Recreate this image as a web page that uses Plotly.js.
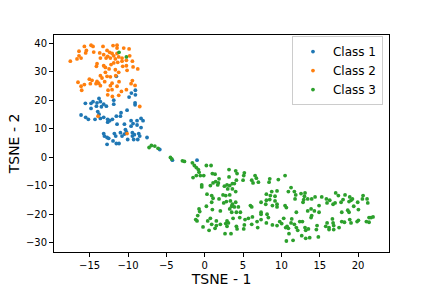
<!DOCTYPE html>
<html>
<head>
<meta charset="utf-8">
<script src="https://cdn.plot.ly/plotly-3.0.1.min.js"></script>
<style>html,body{margin:0;padding:0;background:#fff;}#chart{width:432px;height:288px;}</style>
</head>
<body>
<div id="chart"></div>
<script>
const seriesNames = ["Class 1", "Class 2", "Class 3"];
const seriesColors = ["#1f77b4", "#ff7f0e", "#2ca02c"];

const class1Points = [
  [-11.52,28.4],[-9.04,23.5],[-9.04,21.9],[-9.56,22.5],[-9.86,21.1],[-13.78,20.6],
  [-15.56,18.9],[-14.82,18.9],[-14.56,19.5],[-14.04,19.1],[-13.6,19.5],[-13.17,18.6],[-12.82,17.9],
  [-11.86,20.0],[-11.86,18.6],[-14.82,17.1],[-14.12,17.9],[-13.47,17.7],[-9.08,19.1],[-9.08,18.4],
  [-13.95,16.0],[-13.78,15.1],[-16.12,14.8],[-15.52,14.0],[-15.17,13.3],[-14.3,13.3],[-13.6,13.6],
  [-13.17,14.0],[-12.65,13.3],[-12.65,12.3],[-12.39,12.8],[-12.04,13.3],[-11.52,14.4],[-10.99,14.4],
  [-10.91,15.6],[-10.12,16.5],[-9.6,12.8],[-8.82,12.8],[-8.3,13.6],[-8.04,12.8],[-11.43,11.6],
  [-10.47,11.6],[-9.34,11.8],[-8.82,11.3],[-9.6,10.9],[-8.3,10.4],[-10.34,9.7],[-10.21,8.9],
  [-13.17,8.3],[-13.08,7.4],[-12.73,6.9],[-11.78,8.3],[-11.6,7.4],[-10.99,8.6],[-10.78,7.4],
  [-10.47,8.1],[-9.43,8.6],[-9.43,7.4],[-9.17,7.9],[-8.6,8.3],[-8.47,7.4],[-7.52,6.9],
  [-12.52,6.6],[-11.95,5.7],[-11.52,4.8],[-11.17,4.8],[-12.73,4.5],[-10.04,6.2],[-9.26,6.2],
  [-8.73,6.2],[-5.86,2.7],[-4.21,-1.05],[-1.0,-1.05]
];

const class2Points = [
  [-15.69,38.9],[-14.82,39.3],[-14.56,38.9],[-13.26,38.9],[-11.95,39.2],[-11.43,39.3],[-11.43,38.3],
  [-10.56,38.3],[-9.86,38.0],[-16.39,37.2],[-15.43,37.5],[-15.52,36.6],[-14.47,36.9],[-13.69,36.6],
  [-12.73,37.5],[-12.39,36.8],[-13.17,36.0],[-12.08,36.4],[-11.86,35.6],[-11.43,36.4],[-11.21,35.2],
  [-10.78,34.8],[-9.78,35.6],[-16.39,35.6],[-16.65,34.5],[-16.12,34.8],[-17.52,33.7],[-13.6,34.8],
  [-12.86,34.8],[-12.65,35.4],[-12.3,34.8],[-11.65,34.5],[-10.78,33.7],[-10.21,34.0],[-9.43,33.7],
  [-14.04,32.8],[-14.12,31.9],[-13.17,32.1],[-12.95,31.5],[-12.21,32.5],[-11.86,33.1],[-11.34,33.3],
  [-10.69,31.9],[-10.21,32.1],[-9.34,31.7],[-8.73,31.0],[-10.12,30.5],[-12.47,31.0],[-11.65,30.7],
  [-12.95,29.8],[-11.21,29.8],[-13.6,28.6],[-13.39,27.8],[-12.73,28.4],[-12.3,28.2],[-11.6,28.6],
  [-15.04,27.4],[-14.69,27.0],[-14.04,26.6],[-13.82,26.0],[-13.04,26.5],[-12.08,26.0],[-11.17,26.5],
  [-9.43,26.9],[-9.6,25.8],[-9.08,25.2],[-16.52,26.3],[-15.69,25.5],[-14.91,25.8],[-16.12,24.9],
  [-14.17,25.8],[-13.6,25.1],[-12.3,25.1],[-11.43,24.9],[-10.21,23.7],[-10.86,23.1],[-12.6,23.5],
  [-12.08,23.7],[-16.04,23.5],[-12.65,21.9],[-12.04,21.3],[-11.21,21.7],[-8.47,17.8],[-13.91,14.4],
  [-10.12,8.3]
];

const class3Points = [
  [-11.17,36.8],[-10.21,35.2],
  [-7.25,3.4],[-6.95,4.1],[-6.51,3.9],[-6.08,3.1],[-4.47,-0.1],[-4.3,-0.6],[-2.9,-1.3],[-2.64,-1.5],
  [-1.61,-2.0],[-1.35,-2.93],[-1.09,-3.64],[-0.83,-4.34],[0.22,-2.93],[0.83,-2.93],[-0.74,-5.28],
  [-1.52,-7.15],[-1.09,-6.45],[-0.57,-6.45],[-0.13,-6.45],[1.0,-5.75],[1.35,-5.98],[1.87,-7.62],
  [3.17,-4.34],[3.17,-6.92],[4.04,-4.81],[4.22,-5.75],[5.17,-5.51],[5.09,-6.45],[4.13,-8.09],
  [5.0,-8.09],[6.57,-6.45],[6.74,-7.39],[6.13,-8.09],[6.3,-9.03],[7.0,-8.79],[8.48,-7.62],
  [8.39,-8.79],[9.6,-7.86],[-0.39,-9.73],[-0.39,-10.44],[0.74,-9.97],[1.09,-9.03],[1.43,-8.56],
  [1.78,-9.03],[1.7,-9.73],[2.57,-10.2],[2.91,-9.73],[3.26,-9.97],[3.61,-9.26],[3.87,-9.26],
  [3.0,-11.14],[3.61,-11.14],[4.04,-12.08],[8.74,-12.08],[9.43,-11.84],[8.56,-13.48],[9.17,-13.72],
  [0.30,-13.01],[0.91,-13.48],[1.09,-14.42],[0.91,-15.83],[1.87,-14.66],[2.39,-13.25],[2.74,-13.48],
  [3.26,-13.25],[2.48,-16.06],[2.83,-15.59],[3.35,-15.36],[4.04,-15.83],[3.61,-16.53],[3.52,-17.24],
  [3.87,-17.47],[4.39,-17.47],[8.04,-13.01],[8.04,-15.12],[8.48,-14.89],[9.17,-15.36],[9.43,-16.53],
  [9.43,-17.47],[7.35,-15.83],[7.96,-16.53],[8.83,-17.0],[0.22,-17.24],[1.0,-18.41],[2.04,-18.88],
  [-0.74,-18.17],[-0.65,-19.11],[3.26,-18.17],[3.52,-19.35],[4.13,-19.35],[4.65,-19.35],[5.96,-17.0],
  [6.13,-17.47],[7.35,-19.35],[7.35,-20.05],[8.13,-20.05],[8.3,-21.22],[-0.91,-20.52],[-1.17,-21.92],
  [-1.0,-22.39],[0.39,-22.39],[0.74,-21.46],[1.52,-22.39],[1.52,-24.03],[2.04,-23.57],[2.74,-23.33],
  [2.91,-22.39],[3.09,-23.1],[3.7,-21.46],[4.57,-21.22],[5.26,-21.92],[5.7,-21.46],[6.22,-20.99],
  [6.13,-23.57],[5.17,-23.8],[6.83,-22.63],[7.35,-21.92],[8.04,-23.1],[8.83,-23.8],[9.43,-24.03],
  [-0.22,-24.5],[0.91,-23.57],[0.57,-25.68],[1.35,-24.97],[2.91,-24.27],[4.13,-24.27],[4.22,-25.21],
  [5.09,-25.21],[6.91,-24.74],[2.65,-26.85],[3.43,-26.85],
  [10.48,-6.45],[11.26,-10.67],[10.91,-12.08],[11.69,-12.08],[11.87,-13.25],[11.78,-14.66],[12.56,-12.78],
  [13.08,-12.55],[13.0,-13.72],[12.91,-14.89],[12.82,-15.83],[13.43,-14.66],[13.95,-14.66],[14.39,-13.95],
  [15.26,-13.95],[15.87,-14.66],[16.3,-15.12],[15.95,-16.06],[16.74,-16.53],[17.0,-16.06],[17.08,-12.55],
  [17.43,-13.48],[18.3,-13.25],[18.91,-13.95],[18.04,-14.89],[17.78,-15.83],[18.82,-15.59],[19.08,-15.12],
  [19.26,-14.66],[19.95,-15.83],[19.43,-17.24],[20.56,-14.66],[20.65,-13.48],[21.17,-14.66],[21.26,-16.06],
  [20.04,-18.41],[18.65,-18.64],[18.82,-19.35],[17.87,-19.35],[14.91,-17.0],[14.3,-18.88],[13.87,-18.17],
  [13.43,-18.88],[14.91,-19.35],[13.95,-20.52],[13.87,-21.22],[11.95,-19.35],[10.48,-17.0],[10.65,-17.7],
  [10.3,-21.46],[9.78,-22.63],[10.04,-23.33],[10.56,-24.74],[10.74,-24.27],[10.91,-24.97],[11.35,-21.69],
  [11.26,-23.1],[11.69,-23.57],[12.39,-22.63],[12.74,-22.63],[11.95,-24.74],[12.13,-25.68],[10.99,-26.85],
  [10.65,-29.43],[11.52,-29.2],[12.65,-27.55],[13.17,-28.49],[13.69,-28.26],[13.08,-24.74],[13.17,-25.68],
  [13.52,-25.21],[14.56,-25.44],[14.82,-28.02],[14.65,-24.03],[15.78,-24.27],[15.96,-23.1],[16.21,-24.74],
  [16.21,-25.44],[16.74,-23.1],[16.82,-24.03],[16.82,-25.44],[16.65,-21.69],[17.52,-24.74],[17.87,-22.63],
  [18.22,-22.86],[18.91,-21.92],[19.08,-23.1],[19.87,-22.63],[20.04,-22.16],[21.08,-22.63],[21.43,-22.86],
  [21.43,-21.22],[21.69,-21.22],[21.95,-20.99]
];

const xTickVals = [-15, -10, -5, 0, 5, 10, 15, 20];
const yTickVals = [-30, -20, -10, 0, 10, 20, 30, 40];
const xTitle = "TSNE - 1";
const yTitle = "TSNE - 2";

const allPoints = [class1Points, class2Points, class3Points];
const traces = allPoints.map((pts, i) => ({
  type: "scatter",
  mode: "markers",
  name: seriesNames[i],
  x: pts.map(p => p[0]),
  y: pts.map(p => p[1]),
  marker: {color: seriesColors[i], size: 3.8, line: {width: 0}}
}));

const axisCommon = {
  showline: true, mirror: true, linecolor: "#000", linewidth: 1,
  ticks: "outside", ticklen: 4, tickwidth: 1, tickcolor: "#000",
  showgrid: false, zeroline: false,
  tickfont: {family: "DejaVu Sans", size: 10, color: "#000"}
};

const layout = {
  width: 432, height: 288,
  margin: {l: 54, r: 43, t: 35, b: 36},
  paper_bgcolor: "#fff", plot_bgcolor: "#fff",
  font: {family: "DejaVu Sans", color: "#000"},
  showlegend: true,
  legend: {
    x: 0.982, y: 0.995, xanchor: "right", yanchor: "top",
    bordercolor: "#cccccc", borderwidth: 1, bgcolor: "rgba(255,255,255,0.8)",
    font: {family: "DejaVu Sans", size: 12, color: "#000"},
    itemsizing: "trace"
  },
  xaxis: Object.assign({}, axisCommon, {
    range: [-19.65, 24.03], tickvals: xTickVals,
    title: {text: xTitle, font: {family: "DejaVu Sans", size: 14, color: "#000"}, standoff: 4}
  }),
  yaxis: Object.assign({}, axisCommon, {
    range: [-33.3, 42.9], tickvals: yTickVals,
    title: {text: yTitle, font: {family: "DejaVu Sans", size: 14, color: "#000"}, standoff: 2}
  })
};

Plotly.newPlot("chart", traces, layout, {staticPlot: true, displayModeBar: false});
</script>
</body>
</html>
